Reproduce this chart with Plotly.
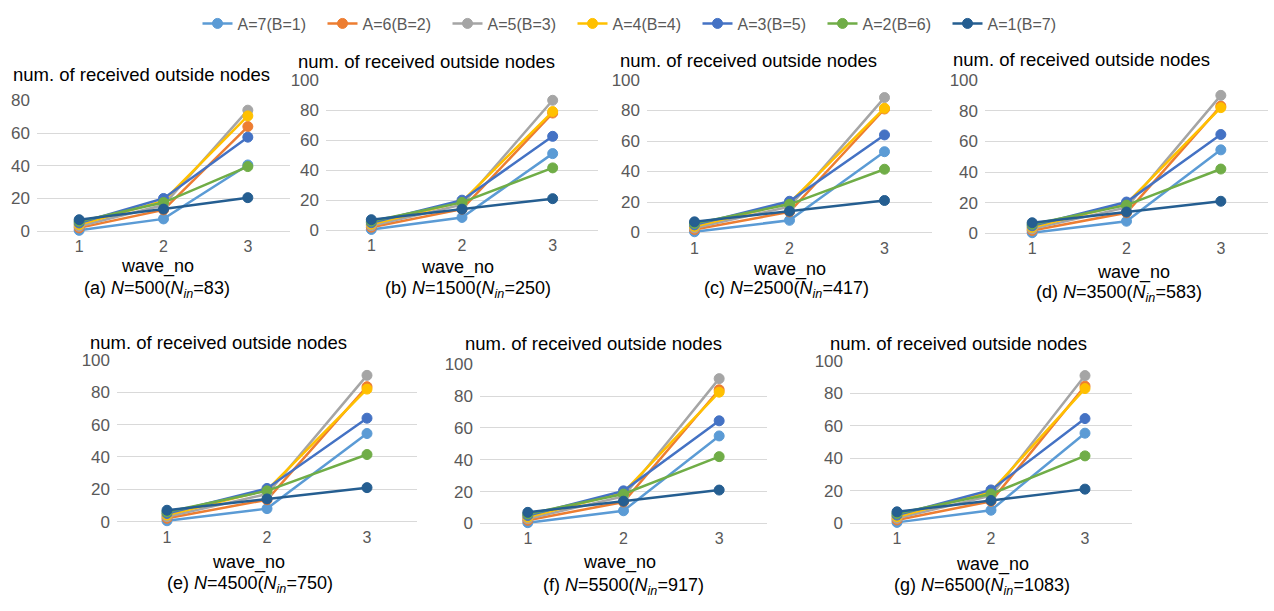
import plotly.graph_objects as go

W, H = 1274, 611

waves = [1, 2, 3]
series_names = ["A=7(B=1)", "A=6(B=2)", "A=5(B=3)", "A=4(B=4)", "A=3(B=5)", "A=2(B=6)", "A=1(B=7)"]
series_colors = ["#5B9BD5", "#ED7D31", "#A5A5A5", "#FFC000", "#4472C4", "#70AD47", "#255E91"]

# values per panel: one list per series (A=7 ... A=1), at wave 1, 2, 3
vals_a = [[0.5, 7.5, 40.5], [2, 13, 64], [3, 16, 74], [4, 18.5, 70.5], [5, 20, 57.5], [6, 17.5, 39.5], [7, 13.5, 20.5]]
vals_b = [[0.5, 8.5, 51], [2, 14, 78], [3, 17, 86.5], [4, 19, 79], [5, 20, 62.5], [6, 18.5, 41.5], [7, 14, 21]]
vals_c = [[0.5, 8, 53], [2, 13.5, 81], [3, 17, 88.5], [4, 19.5, 81.5], [5, 20.5, 64], [6, 18.5, 41.5], [7, 14, 21]]
vals_d = [[0.5, 8, 54.5], [2, 13.5, 83], [3, 17, 90], [4, 19.5, 82], [5, 20.5, 64.5], [6, 18.5, 42], [7, 14, 21]]
vals_e = [[0.5, 8, 54.5], [2, 13.5, 83.5], [3, 17, 90.5], [4, 19.5, 82], [5, 20.5, 64], [6, 19, 41.5], [7, 14, 21]]
vals_f = [[0.5, 8, 55], [2, 13.5, 84], [3, 17, 91], [4, 19.5, 82.5], [5, 20.5, 64.5], [6, 18.5, 42], [7, 14, 21]]
vals_g = [[0.5, 8, 55.5], [2, 13.5, 84.5], [3, 17, 91], [4, 19.5, 83], [5, 20.5, 64.5], [6, 18, 41.5], [7, 14, 21]]

panel_values = [vals_a, vals_b, vals_c, vals_d, vals_e, vals_f, vals_g]
panel_ymax = [80, 100, 100, 100, 100, 100, 100]
panel_captions = [
    "(a) <i>N</i>=500(<i>N<sub>in</sub></i>=83)",
    "(b) <i>N</i>=1500(<i>N<sub>in</sub></i>=250)",
    "(c) <i>N</i>=2500(<i>N<sub>in</sub></i>=417)",
    "(d) <i>N</i>=3500(<i>N<sub>in</sub></i>=583)",
    "(e) <i>N</i>=4500(<i>N<sub>in</sub></i>=750)",
    "(f) <i>N</i>=5500(<i>N<sub>in</sub></i>=917)",
    "(g) <i>N</i>=6500(<i>N<sub>in</sub></i>=1083)",
]
y_title = "num. of received outside nodes"
x_title = "wave_no"

# layout (pixels): plot-area x0, x1, y_top, y_bottom
boxes = [
    (37, 290, 94.3, 229.3),
    (326, 598, 73.3, 228.3),
    (647, 932, 73.3, 230.7),
    (985, 1268, 73.3, 231.7),
    (117, 417, 362.3, 529),
    (480, 767, 366.7, 531),
    (850, 1132, 363.3, 530.7),
]
# text positions (pixels): (title cx, title cy, xtitle cx, xtitle cy, caption cx, caption cy)
texts = [
    (141, 68, 157, 266, 157, 290),
    (426, 54, 457, 267, 468, 290),
    (748, 53, 790, 269, 786, 290),
    (1081, 52, 1133, 272, 1119, 294),
    (218, 344, 248, 571, 250, 594),
    (593, 345, 619, 571, 623, 596),
    (958, 345, 992, 573, 982, 596),
]

FONT = "Liberation Sans"
fig = go.Figure()
annotations = []
for i, (vals, ymax, cap, box, tx) in enumerate(zip(panel_values, panel_ymax, panel_captions, boxes, texts)):
    k = "" if i == 0 else str(i + 1)
    x0, x1, yt, yb = box
    for j, (name, col) in enumerate(zip(series_names, series_colors)):
        fig.add_trace(go.Scatter(
            x=waves, y=vals[j], name=name, mode="lines+markers",
            line=dict(color=col, width=2.5),
            marker=dict(color=col, size=10, line=dict(color=col, width=1)),
            xaxis="x" + k, yaxis="y" + k, showlegend=(i == 0),
            legendgroup=name, cliponaxis=False,
        ))
    fig.layout["xaxis" + k] = dict(
        domain=[x0 / W, x1 / W], range=[0.5, 3.5], tickvals=waves,
        showgrid=False, zeroline=False, showline=False, ticks="",
        tickfont=dict(family=FONT, size=16, color="#595959"),
        anchor="y" + k, fixedrange=True, ticklabelstandoff=4,
    )
    fig.layout["yaxis" + k] = dict(
        domain=[1 - yb / H, 1 - yt / H], range=[0, ymax], dtick=20,
        showgrid=True, gridcolor="#D9D9D9", gridwidth=1,
        zeroline=True, zerolinecolor="#D9D9D9", zerolinewidth=1, showline=False, ticks="",
        tickfont=dict(family=FONT, size=17, color="#595959"),
        anchor="x" + k, fixedrange=True, ticklabelstandoff=6,
    )
    tcx, tcy, xcx, xcy, ccx, ccy = tx
    annotations.append(dict(text=y_title, x=tcx / W, y=1 - tcy / H, xref="paper", yref="paper",
                            xanchor="center", yanchor="middle", showarrow=False,
                            font=dict(family=FONT, size=18.5, color="#000000")))
    annotations.append(dict(text=x_title, x=xcx / W, y=1 - xcy / H, xref="paper", yref="paper",
                            xanchor="center", yanchor="middle", showarrow=False, borderpad=0,
                            font=dict(family=FONT, size=18, color="#000000")))
    annotations.append(dict(text=cap, x=ccx / W, y=1 - ccy / H, xref="paper", yref="paper",
                            xanchor="center", yanchor="middle", showarrow=False, borderpad=0,
                            font=dict(family=FONT, size=18, color="#000000")))

fig.update_layout(
    width=W, height=H, margin=dict(l=0, r=0, t=0, b=0),
    paper_bgcolor="white", plot_bgcolor="white",
    annotations=annotations,
    showlegend=True,
    legend=dict(orientation="h", x=635 / W, xanchor="center", y=1 - 15 / H, yanchor="middle",
                font=dict(family=FONT, size=16, color="#595959"),
                itemwidth=30, entrywidth=80, entrywidthmode="pixels",
                bgcolor="rgba(0,0,0,0)", traceorder="normal"),
)
fig.write_html("out.html")
